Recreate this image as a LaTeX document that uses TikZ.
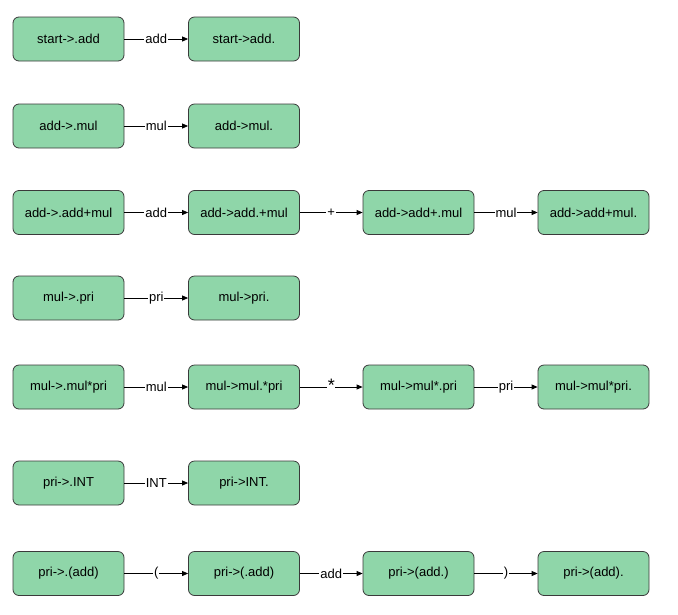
\documentclass[tikz,border=0pt]{standalone}
\usepackage{fontspec}
\setmainfont{Liberation Sans}
\usetikzlibrary{arrows.meta}
\definecolor{boxfill}{HTML}{8FD6A9}
\definecolor{boxline}{HTML}{3A3A3A}
\begin{document}
\begin{tikzpicture}[x=1pt,y=-1pt,
  state/.style={draw=boxline,fill=boxfill,rounded corners=6pt,line width=0.8pt,
    minimum width=111pt,minimum height=44pt,inner sep=0pt,font=\fontsize{13}{15}\selectfont},
  trans/.style={-{Triangle[length=6pt,width=5pt]},line width=0.8pt},
  lbl/.style={fill=white,inner sep=1pt,font=\fontsize{13}{15}\selectfont}]
\useasboundingbox (0,0) rectangle (678,614);
% column centres 68.5, 244, 418.5, 593.5
% row 1
\node[state] (s1a) at (68.5,39) {start->.add};
\node[state] (s1b) at (244,39) {start->add.};
\draw[trans] (s1a) -- node[lbl] {add} (s1b);
% row 2
\node[state] (s2a) at (68.5,126) {add->.mul};
\node[state] (s2b) at (244,126) {add->mul.};
\draw[trans] (s2a) -- node[lbl] {mul} (s2b);
% row 3
\node[state] (s3a) at (68.5,212.5) {add->.add+mul};
\node[state] (s3b) at (244,212.5) {add->add.+mul};
\node[state] (s3c) at (418.5,212.5) {add->add+.mul};
\node[state] (s3d) at (593.5,212.5) {add->add+mul.};
\draw[trans] (s3a) -- node[lbl] {add} (s3b);
\draw[trans] (s3b) -- node[lbl] {+} (s3c);
\draw[trans] (s3c) -- node[lbl] {mul} (s3d);
% row 4
\node[state] (s4a) at (68.5,298) {mul->.pri};
\node[state] (s4b) at (244,298) {mul->pri.};
\draw[trans] (s4a) -- node[lbl] {pri} (s4b);
% row 5
\node[state] (s5a) at (68.5,387) {mul->.mul*pri};
\node[state] (s5b) at (244,387) {mul->mul.*pri};
\node[state] (s5c) at (418.5,387) {mul->mul*.pri};
\node[state] (s5d) at (593.5,387) {mul->mul*pri.};
\draw[trans] (s5a) -- node[lbl] {mul} (s5b);
\draw[trans] (s5b) -- node[lbl,inner sep=0.5pt,yshift=1.5pt,font=\fontsize{18}{18}\selectfont] {*} (s5c);
\draw[trans] (s5c) -- node[lbl] {pri} (s5d);
% row 6
\node[state] (s6a) at (68.5,483) {pri->.INT};
\node[state] (s6b) at (244,483) {pri->INT.};
\draw[trans] (s6a) -- node[lbl] {INT} (s6b);
% row 7
\node[state] (s7a) at (68.5,573.5) {pri->.(add)};
\node[state] (s7b) at (244,573.5) {pri->(.add)};
\node[state] (s7c) at (418.5,573.5) {pri->(add.)};
\node[state] (s7d) at (593.5,573.5) {pri->(add).};
\draw[trans] (s7a) -- node[lbl] {(} (s7b);
\draw[trans] (s7b) -- node[lbl] {add} (s7c);
\draw[trans] (s7c) -- node[lbl] {)} (s7d);
\end{tikzpicture}
\end{document}
